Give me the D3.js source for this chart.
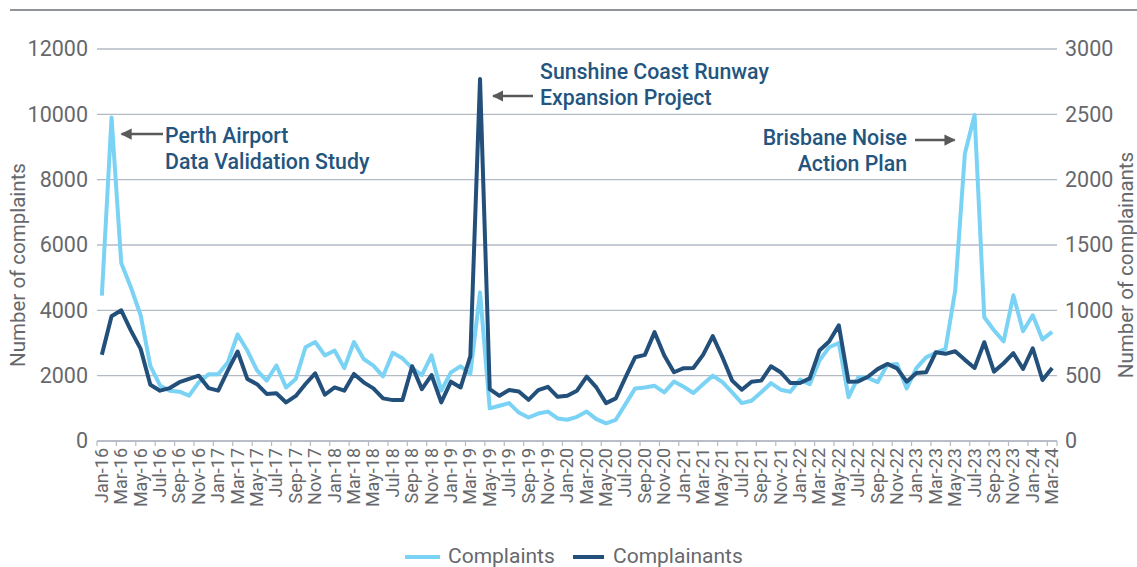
<!DOCTYPE html>
<html>
<head>
<meta charset="utf-8">
<script src="https://cdn.jsdelivr.net/npm/d3@7"></script>
<style>
  html, body { margin: 0; padding: 0; background: #fff; }
  svg { display: block; font-family: Roboto, "Noto Sans", sans-serif; }
</style>
</head>
<body>
<svg id="chart" width="1137" height="567"></svg>
<script>
// ---- Data ----
const monthNames = ["Jan","Feb","Mar","Apr","May","Jun","Jul","Aug","Sep","Oct","Nov","Dec"];
const categories = [];
for (let y = 16; y <= 24; y++) {
  for (let m = 0; m < 12; m++) {
    if (y === 24 && m > 2) break;
    categories.push(monthNames[m] + "-" + y);
  }
}
const complaints = [
  4450, 9900, 5450, 4700, 3850, 2300, 1700, 1540, 1510, 1390, 1800, 2040,
  2040, 2410, 3260, 2770, 2160, 1850, 2310, 1640, 1900, 2870, 3030, 2620,
  2770, 2230, 3030, 2510, 2310, 1980, 2700, 2530, 2230, 2020, 2620, 1540,
  2100, 2290, 2050, 4550, 1000, 1080, 1160, 870, 720, 840, 900, 690,
  650, 740, 900, 670, 540, 650, 1130, 1610, 1640, 1690, 1490, 1820,
  1660, 1470, 1740, 2000, 1800, 1490, 1160, 1230, 1490, 1770, 1570, 1510,
  1880, 1740, 2460, 2870, 3000, 1340, 1950, 1930, 1800, 2330, 2360, 1610,
  2230, 2560, 2700, 2820, 4600, 8800, 9980, 3790, 3390, 3050, 4460, 3360,
  3850, 3110, 3340
];
const complainants = [
  660, 955, 1000, 845, 705, 430, 385, 405, 450, 475, 500, 405,
  385, 540, 685, 475, 435, 360, 365, 295, 345, 436, 518, 354,
  410, 385, 513, 449, 403, 326, 313, 313, 572, 397, 505, 295,
  454, 410, 649, 2770, 397, 346, 390, 379, 315, 390, 415, 338,
  346, 385, 492, 410, 290, 326, 487, 641, 659, 833, 654, 526,
  557, 559, 659, 803, 641, 462, 392, 454, 462, 572, 526, 444,
  444, 479, 692, 762, 885, 454, 456, 492, 550, 590, 556, 454,
  521, 526, 679, 667, 687, 621, 559, 756, 531, 595, 672, 551,
  710, 467, 559
];
const leftTicks = [0, 2000, 4000, 6000, 8000, 10000, 12000];
const rightTicks = [0, 500, 1000, 1500, 2000, 2500, 3000];
const seriesNames = ["Complaints", "Complainants"];
const annotations = [
  { lines: ["Perth Airport", "Data Validation Study"] },
  { lines: ["Sunshine Coast Runway", "Expansion Project"] },
  { lines: ["Brisbane Noise", "Action Plan"] }
];

// ---- Style ----
const colLight = "#7ad2f4";
const colDark = "#22507a";
const gridCol = "#b4bac4";
const textCol = "#66686c";
const annCol = "#23557e";
const arrowCol = "#595959";

const svg = d3.select("#chart");
const W = 1137, H = 567;
const plot = { left: 97, right: 1057, top: 49, bottom: 441 };

const x = d3.scaleBand().domain(categories).range([plot.left, plot.right]).paddingInner(0).paddingOuter(0);
const yL = d3.scaleLinear().domain([0, 12000]).range([plot.bottom, plot.top]);
const yR = d3.scaleLinear().domain([0, 3000]).range([plot.bottom, plot.top]);
const cx = c => x(c) + x.bandwidth() / 2;

// top rule
svg.append("line").attr("x1", 10).attr("x2", W).attr("y1", 10).attr("y2", 10)
  .attr("stroke", "#6b6f75").attr("stroke-width", 1.5);

// gridlines
svg.append("g").selectAll("line").data(leftTicks).join("line")
  .attr("x1", plot.left).attr("x2", plot.right)
  .attr("y1", d => yL(d)).attr("y2", d => yL(d))
  .attr("stroke", gridCol).attr("stroke-width", 1.3);

// left axis labels
const gL = svg.append("g").attr("transform", `translate(${plot.left},0)`)
  .call(d3.axisLeft(yL).tickValues(leftTicks).tickSize(0).tickPadding(9).tickFormat(d3.format("d")));
gL.select(".domain").remove();
gL.selectAll("text").attr("font-size", 21.5).attr("fill", textCol).attr("font-family", "Roboto");

// right axis labels
const gR = svg.append("g").attr("transform", `translate(${plot.right},0)`)
  .call(d3.axisRight(yR).tickValues(rightTicks).tickSize(0).tickPadding(8).tickFormat(d3.format("d")));
gR.select(".domain").remove();
gR.selectAll("text").attr("font-size", 21.5).attr("fill", textCol).attr("font-family", "Roboto");

// x axis
const tickBounds = categories.filter((d, i) => i % 2 === 0).map(c => x(c)).concat([plot.right]);
svg.append("g").selectAll("line").data(tickBounds).join("line")
  .attr("x1", d => d).attr("x2", d => d)
  .attr("y1", plot.bottom).attr("y2", plot.bottom + 5)
  .attr("stroke", gridCol).attr("stroke-width", 1.2);
svg.append("line").attr("x1", plot.left).attr("x2", plot.right)
  .attr("y1", plot.bottom).attr("y2", plot.bottom)
  .attr("stroke", gridCol).attr("stroke-width", 1.3);

svg.append("g").selectAll("text").data(categories.filter((d, i) => i % 2 === 0)).join("text")
  .attr("transform", d => `translate(${cx(d) + 6},${plot.bottom + 7}) rotate(-90)`)
  .attr("text-anchor", "end")
  .attr("font-size", 18).attr("fill", textCol)
  .text(d => d);

// axis titles
svg.append("text").attr("transform", `translate(25,${(plot.top + plot.bottom) / 2 + 20}) rotate(-90)`)
  .attr("text-anchor", "middle").attr("font-size", 20.5).attr("fill", textCol)
  .text("Number of complaints");
svg.append("text").attr("transform", `translate(1133,${(plot.top + plot.bottom) / 2 + 20}) rotate(-90)`)
  .attr("text-anchor", "middle").attr("font-size", 20.5).attr("fill", textCol)
  .text("Number of complainants");

// lines
const lineL = d3.line().x((d, i) => cx(categories[i])).y(d => yL(d));
const lineR = d3.line().x((d, i) => cx(categories[i])).y(d => yR(d));
svg.append("path").datum(complaints).attr("d", lineL)
  .attr("fill", "none").attr("stroke", colLight).attr("stroke-width", 4).attr("stroke-linejoin", "round");
svg.append("path").datum(complainants).attr("d", lineR)
  .attr("fill", "none").attr("stroke", colDark).attr("stroke-width", 4).attr("stroke-linejoin", "round");

// arrows
const defs = svg.append("defs");
defs.append("marker").attr("id", "ah").attr("viewBox", "0 0 10 10")
  .attr("refX", 9).attr("refY", 5).attr("markerWidth", 4.5).attr("markerHeight", 4.5)
  .attr("markerUnits", "strokeWidth").attr("orient", "auto")
  .append("path").attr("d", "M0,0 L10,5 L0,10 z").attr("fill", arrowCol);

function arrow(x1, x2, yy) {
  svg.append("line").attr("x1", x1).attr("x2", x2).attr("y1", yy).attr("y2", yy)
    .attr("stroke", arrowCol).attr("stroke-width", 2.5).attr("marker-end", "url(#ah)");
}
const iPerth = 1, iSun = 39, iBris = 90;
arrow(163, cx(categories[iPerth]) + 10, 134);
arrow(533, cx(categories[iSun]) + 13, 96);
arrow(915, cx(categories[iBris]) - 20, 140);

function annot(lines, xx, yy, anchor) {
  const t = svg.append("text").attr("x", xx).attr("y", yy).attr("text-anchor", anchor)
    .attr("font-size", 21.3).attr("font-weight", 500).attr("fill", annCol);
  lines.forEach((l, k) => t.append("tspan").attr("x", xx).attr("dy", k === 0 ? 0 : 26).text(l));
}
annot(annotations[0].lines, 165, 143, "start");
annot(annotations[1].lines, 540, 79, "start");
annot(annotations[2].lines, 907, 145, "end");

// legend
const lg = svg.append("g");
lg.append("line").attr("x1", 405).attr("x2", 440).attr("y1", 557).attr("y2", 557)
  .attr("stroke", colLight).attr("stroke-width", 4);
lg.append("text").attr("x", 448).attr("y", 563).attr("font-size", 21).attr("fill", textCol).text(seriesNames[0]);
lg.append("line").attr("x1", 573).attr("x2", 604).attr("y1", 557).attr("y2", 557)
  .attr("stroke", colDark).attr("stroke-width", 4);
lg.append("text").attr("x", 613).attr("y", 563).attr("font-size", 21).attr("fill", textCol).text(seriesNames[1]);
</script>
</body>
</html>
